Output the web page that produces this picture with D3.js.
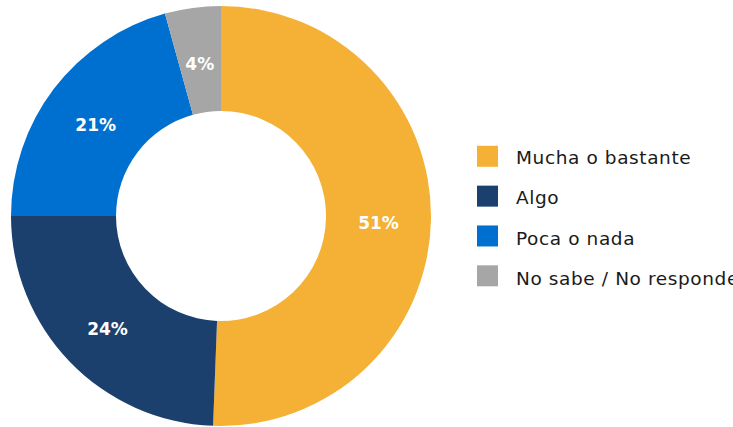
<!DOCTYPE html>
<meta charset="utf-8">
<style>
body { margin: 0; background: #fff; }
svg { display: block; }
.labels text { fill: #fff; font-family: "DejaVu Sans", sans-serif; font-weight: bold; font-size: 17px; }
.legend text { fill: #1a1a1a; font-family: "DejaVu Sans", sans-serif; font-size: 18.5px; letter-spacing: 0.6px; }
</style>
<svg width="733" height="427"></svg>
<script src="https://d3js.org/d3.v7.min.js"></script>
<script>

var categories = ["Mucha o bastante", "Algo", "Poca o nada", "No sabe / No responde"];
var values = [50.6, 24.4, 20.7, 4.3];
var colors = ["#F4B135", "#1B406D", "#0070D0", "#A6A6A6"];

var svg = d3.select("svg");
var cx = 221, cy = 216, outerR = 210, innerR = 105;

var pie = d3.pie().sort(null).value(function(d) { return d; });
var arc = d3.arc().innerRadius(innerR).outerRadius(outerR);
var labelArc = d3.arc().innerRadius((innerR + outerR) / 2).outerRadius((innerR + outerR) / 2);

var arcs = pie(values);

var g = svg.append("g").attr("transform", "translate(" + cx + "," + cy + ")");

g.append("g").attr("class", "slices")
  .selectAll("path")
  .data(arcs)
  .enter().append("path")
    .attr("d", arc)
    .attr("fill", function(d, i) { return colors[i]; });

g.append("g").attr("class", "labels")
  .selectAll("text")
  .data(arcs)
  .enter().append("text")
    .attr("transform", function(d) {
      var c = labelArc.centroid(d);
      return "translate(" + c[0] + "," + (c[1] + 4) + ")";
    })
    .attr("text-anchor", "middle")
    .attr("dy", "0.35em")
    .text(function(d) { return Math.round(d.data) + "%"; });

// squares and text sit on slightly different rows in the original
var ySquare = d3.scalePoint().domain(categories).range([156.3, 275.8]);
var yText = d3.scalePoint().domain(categories).range([157.5, 279]);

var legend = svg.append("g").attr("class", "legend")
  .selectAll("g")
  .data(categories)
  .enter().append("g");

legend.append("rect")
    .attr("x", 477)
    .attr("y", function(d) { return ySquare(d) - 10.5; })
    .attr("width", 21)
    .attr("height", 21)
    .attr("fill", function(d, i) { return colors[i]; });

legend.append("text")
    .attr("x", 516)
    .attr("y", function(d) { return yText(d); })
    .attr("dy", "0.35em")
    .text(function(d) { return d; });

</script>
